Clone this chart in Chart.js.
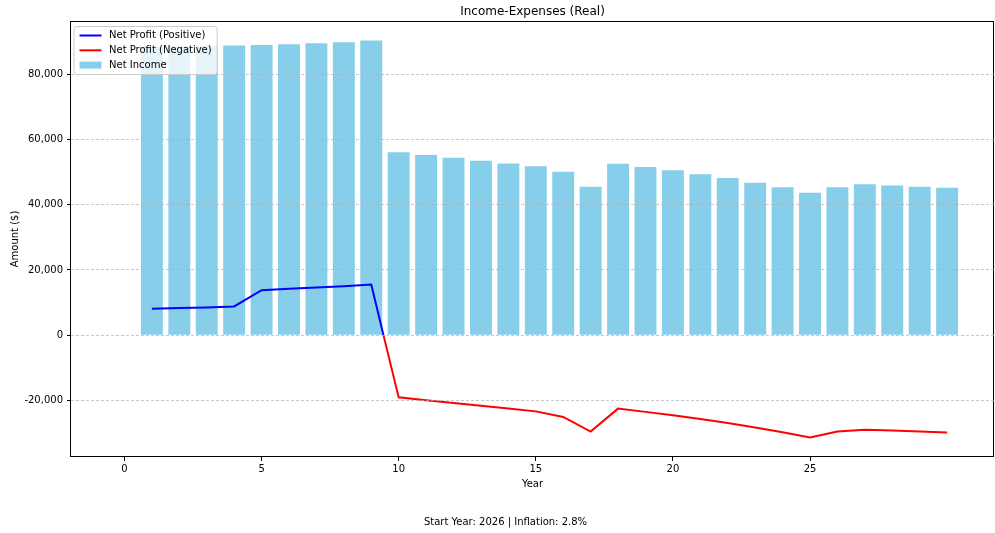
<!DOCTYPE html>
<html><head><meta charset="utf-8">
<script src="https://cdn.jsdelivr.net/npm/chart.js@4.4.0/dist/chart.umd.min.js"></script>
<style>html,body{margin:0;padding:0;background:#fff;}canvas{display:block;}</style>
</head><body>
<canvas id="c" width="995" height="533"></canvas>
<script>
// ---- data ----
const years = [1,2,3,4,5,6,7,8,9,10,11,12,13,14,15,16,17,18,19,20,21,22,23,24,25,26,27,28,29,30];
const netIncome = [88500,88700,88700,88900,89000,89300,89600,89900,90400,56100,55300,54400,53500,52700,51800,50100,45500,52600,51600,50600,49400,48200,46800,45400,43700,45400,46300,45900,45500,45200];
const profitPosYears = [1,2,3,4,5,6,7,8,9,9.445];
const profitPos = [8100,8300,8500,8800,13800,14200,14600,15000,15500,0];
const profitNegYears = [9.445,10,11,12,13,14,15,16,17,18,19,20,21,22,23,24,25,26,27,28,29,30];
const profitNeg = [0,-19100,-19960,-20800,-21700,-22500,-23400,-25100,-29600,-22550,-23550,-24600,-25750,-27000,-28350,-29800,-31400,-29600,-29000,-29300,-29600,-29900];
const xTicks = [0,5,10,15,20,25];
const yTicks = [-20000,0,20000,40000,60000,80000];
const titleText = 'Income-Expenses (Real)';
const footerText = 'Start Year: 2026 | Inflation: 2.8%';

Chart.defaults.font.family = '"DejaVu Sans", sans-serif';
Chart.defaults.font.size = 10;
Chart.defaults.color = '#000';

const pairs = (xs, ys) => xs.map((x, i) => ({x: x, y: ys[i]}));

const framePlugin = {
  id: 'frame',
  afterDatasetsDraw(chart) {
    const a = chart.chartArea, ctx = chart.ctx;
    ctx.save();
    ctx.strokeStyle = '#000';
    ctx.lineWidth = 1;
    ctx.strokeRect(Math.round(a.left) - 0.5, Math.round(a.top) + 0.5, Math.round(a.right - a.left), Math.round(a.bottom - a.top) - 1);
    ctx.restore();
  }
};

function rr(ctx, x, y, w, h, r) {
  ctx.beginPath();
  ctx.moveTo(x + r, y);
  ctx.lineTo(x + w - r, y); ctx.arcTo(x + w, y, x + w, y + r, r);
  ctx.lineTo(x + w, y + h - r); ctx.arcTo(x + w, y + h, x + w - r, y + h, r);
  ctx.lineTo(x + r, y + h); ctx.arcTo(x, y + h, x, y + h - r, r);
  ctx.lineTo(x, y + r); ctx.arcTo(x, y, x + r, y, r);
  ctx.closePath();
}

const legendPlugin = {
  id: 'insideLegend',
  afterDraw(chart) {
    const a = chart.chartArea, ctx = chart.ctx;
    const ds = chart.data.datasets;
    ctx.save();
    ctx.font = '10px "DejaVu Sans"';
    const tw = Math.max(...ds.map(d => ctx.measureText(d.label).width));
    const x0 = a.left + 2.5, y0 = a.top + 5;
    const w = 35.5 + tw + 5, h = 48;
    rr(ctx, x0 + 0.5, y0 + 0.5, w, h, 3);
    ctx.fillStyle = 'rgba(255,255,255,0.8)';
    ctx.fill();
    ctx.strokeStyle = '#cccccc';
    ctx.lineWidth = 1;
    ctx.stroke();
    ds.forEach((d, i) => {
      const cy = y0 + 9.5 + i * 14.8;
      if (d.type === 'line') {
        ctx.strokeStyle = d.borderColor;
        ctx.lineWidth = 2;
        ctx.beginPath(); ctx.moveTo(x0 + 6, cy); ctx.lineTo(x0 + 28, cy); ctx.stroke();
      } else {
        ctx.fillStyle = d.backgroundColor;
        ctx.fillRect(x0 + 6, cy - 3.5, 22, 7);
      }
      ctx.fillStyle = '#000';
      ctx.textBaseline = 'middle';
      ctx.textAlign = 'left';
      ctx.fillText(d.label, x0 + 35.5, cy);
    });
    // footer text
    ctx.textAlign = 'center';
    ctx.textBaseline = 'middle';
    ctx.fillText(footerText, chart.width / 2 + 8, chart.height - 11);
    ctx.restore();
  }
};

new Chart(document.getElementById('c'), {
  type: 'bar',
  data: {
    datasets: [
      { type: 'line', label: 'Net Profit (Positive)', data: pairs(profitPosYears, profitPos),
        borderColor: '#0000ff', borderWidth: 2, pointRadius: 0, fill: false, tension: 0, order: 0 },
      { type: 'line', label: 'Net Profit (Negative)', data: pairs(profitNegYears, profitNeg),
        borderColor: '#ff0000', borderWidth: 2, pointRadius: 0, fill: false, tension: 0, order: 0 },
      { type: 'bar', label: 'Net Income', data: pairs(years, netIncome),
        backgroundColor: '#87ceeb', borderWidth: 0, categoryPercentage: 0.8, barPercentage: 1.0, order: 1 }
    ]
  },
  options: {
    responsive: false,
    animation: false,
    layout: { padding: { left: 0, right: 1, top: 0, bottom: 42.4 } },
    plugins: {
      legend: { display: false },
      tooltip: { enabled: false },
      title: { display: true, text: titleText, fullSize: false, color: '#000',
        font: { size: 12, weight: 'normal' }, padding: { top: 5, bottom: 1.6 } }
    },
    scales: {
      x: {
        type: 'linear', min: -1.95, max: 31.71, offset: false,
        afterBuildTicks(s) { s.ticks = xTicks.map(v => ({ value: v })); },
        afterFit(s) { s.height = 33.6; },
        ticks: { padding: 2, color: '#000', callback: v => String(v), maxRotation: 0, autoSkip: false },
        grid: { display: true, drawOnChartArea: false, drawTicks: true, tickLength: 4, tickColor: '#000', tickWidth: 1, offset: false },
        border: { display: false },
        title: { display: true, text: 'Year', color: '#000', font: { size: 10 }, padding: { top: 0, bottom: 0 } }
      },
      y: {
        type: 'linear', min: -37400, max: 96400,
        afterBuildTicks(s) { s.ticks = yTicks.map(v => ({ value: v })); },
        afterFit(s) { s.width = 71; },
        ticks: { padding: 4, color: '#000', callback: v => v.toLocaleString('en-US'), autoSkip: false },
        grid: { display: true, drawOnChartArea: true, color: 'rgba(176,176,176,0.7)', lineWidth: 1,
          drawTicks: true, tickLength: 4, tickColor: '#000', tickWidth: 1, tickBorderDash: [], z: 1 },
        border: { display: false, dash: [3, 2] },
        title: { display: true, text: 'Amount ($)', color: '#000', font: { size: 10 }, padding: { top: 9, bottom: 0 } }
      }
    }
  },
  plugins: [framePlugin, legendPlugin]
});
</script>
</body></html>
